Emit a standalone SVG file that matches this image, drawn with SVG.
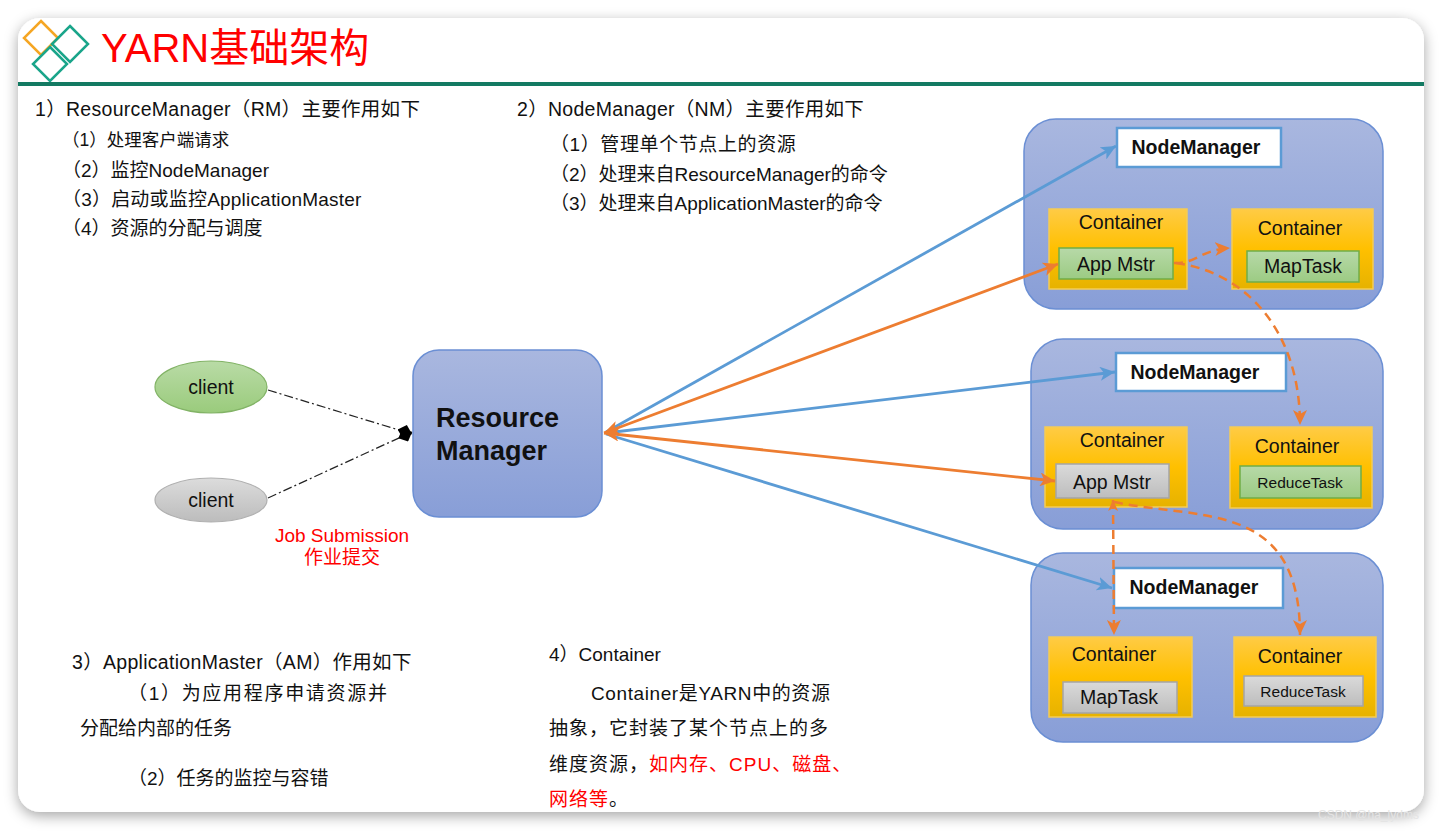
<svg xmlns="http://www.w3.org/2000/svg" width="1442" height="831" viewBox="0 0 1442 831">
<defs>
<style>
.t{font-family:"Liberation Sans","Noto Sans CJK SC",sans-serif;fill:#111;}
.b{font-size:19px;}
.h{font-size:19.5px;letter-spacing:0.3px;}
.lbl{font-size:19.5px;text-anchor:middle;}
.nm{font-size:19.5px;font-weight:bold;text-anchor:middle;}
.red{fill:#ff0000;}
.outer{fill:url(#gBlue);stroke:#6b8fd4;stroke-width:1.5;}
.cont{fill:url(#gYel);stroke:#f5cc55;stroke-width:1.5;}
.grn{fill:url(#gGrn);stroke:#70ad47;stroke-width:1.5;}
.gry{fill:url(#gGry);stroke:#a5a5a5;stroke-width:1.5;}
.nmbox{fill:#fff;stroke:#5b9bd5;stroke-width:2.5;}
.bl{stroke:#5b9bd5;stroke-width:2.8;fill:none;marker-end:url(#aB);}
.or{stroke:#ed7d31;stroke-width:2.8;fill:none;marker-end:url(#aO);}
.dsh{stroke:#ed7d31;stroke-width:2.5;fill:none;stroke-dasharray:9,6;marker-end:url(#aO);}
.dd{stroke:#222;stroke-width:1.2;fill:none;stroke-dasharray:9,3,2,3;marker-end:url(#dia);}
</style>
<linearGradient id="gBlue" x1="0" y1="0" x2="0" y2="1"><stop offset="0" stop-color="#a9b7df"/><stop offset="1" stop-color="#889ed7"/></linearGradient>
<linearGradient id="gYel" x1="0" y1="0" x2="0" y2="1"><stop offset="0" stop-color="#ffcb45"/><stop offset="0.5" stop-color="#ffc000"/><stop offset="1" stop-color="#e6b200"/></linearGradient>
<linearGradient id="gGrn" x1="0" y1="0" x2="0" y2="1"><stop offset="0" stop-color="#b7d9a8"/><stop offset="1" stop-color="#9ccb83"/></linearGradient>
<linearGradient id="gGry" x1="0" y1="0" x2="0" y2="1"><stop offset="0" stop-color="#dadada"/><stop offset="1" stop-color="#bdbdbd"/></linearGradient>
<linearGradient id="gCG" x1="0" y1="0" x2="0" y2="1"><stop offset="0" stop-color="#b9dba6"/><stop offset="1" stop-color="#9acb7c"/></linearGradient>
<linearGradient id="gCY" x1="0" y1="0" x2="0" y2="1"><stop offset="0" stop-color="#dcdcdc"/><stop offset="1" stop-color="#bcbcbc"/></linearGradient>
<filter id="sh" x="-5%" y="-5%" width="110%" height="112%"><feDropShadow dx="0" dy="4" stdDeviation="7" flood-color="#000" flood-opacity="0.35"/></filter>
<marker id="aB" markerUnits="userSpaceOnUse" markerWidth="16" markerHeight="14" refX="15" refY="7" orient="auto-start-reverse"><path d="M0,0 L15,7 L0,14 L4,7 z" fill="#5b9bd5"/></marker>
<marker id="aO" markerUnits="userSpaceOnUse" markerWidth="16" markerHeight="14" refX="15" refY="7" orient="auto-start-reverse"><path d="M0,0 L15,7 L0,14 L4,7 z" fill="#ed7d31"/></marker>
<marker id="aOs" markerUnits="userSpaceOnUse" markerWidth="12" markerHeight="10" refX="11" refY="5" orient="auto-start-reverse"><path d="M0,0 L11,5 L0,10 L3,5 z" fill="#ed7d31"/></marker>
<marker id="dia" markerUnits="userSpaceOnUse" markerWidth="16" markerHeight="14" refX="15" refY="7" orient="auto"><path d="M0,7 L7.5,0 L15,7 L7.5,14 z" fill="#000"/></marker>
</defs>

<rect width="1442" height="831" fill="#ffffff"/>
<rect x="18" y="18" width="1406" height="794" rx="22" fill="#fff" filter="url(#sh)"/>
<text x="1318" y="819" font-family="Liberation Sans, sans-serif" font-size="12" fill="#e4e4e4">CSDN @ha_lydms</text>

<g id="header">
<path d="M41,21 L58,38 L41,55 L24,38 z" fill="none" stroke="#f5a623" stroke-width="2.5"/>
<path d="M70,26 L88,44 L70,62 L52,44 z" fill="none" stroke="#1aa58a" stroke-width="2.5"/>
<path d="M50,47 L67,64 L50,81 L33,64 z" fill="none" stroke="#1aa58a" stroke-width="2.5"/>
<text x="101" y="62" font-family="Liberation Sans, 'Noto Sans CJK SC', sans-serif" font-size="40" fill="#ff0000">YARN基础架构</text>
<rect x="18" y="82" width="1406" height="4" fill="#137a62"/>
</g>

<g id="text-rm">
<text class="t h" x="35" y="116">1）ResourceManager（RM）主要作用如下</text>
<text class="t" x="62" y="146" font-size="17.5">（1）处理客户端请求</text>
<text class="t b" x="62" y="177">（2）监控NodeManager</text>
<text class="t b" x="62" y="206" letter-spacing="0.2">（3）启动或监控ApplicationMaster</text>
<text class="t b" x="62" y="235">（4）资源的分配与调度</text>
</g>
<g id="text-nm">
<text class="t h" x="517" y="116">2）NodeManager（NM）主要作用如下</text>
<text class="t b" x="550" y="151" letter-spacing="0.6">（1）管理单个节点上的资源</text>
<text class="t b" x="550" y="181">（2）处理来自ResourceManager的命令</text>
<text class="t b" x="550" y="210">（3）处理来自ApplicationMaster的命令</text>
</g>
<g id="text-am">
<text class="t h" x="72" y="669">3）ApplicationMaster（AM）作用如下</text>
<text class="t b" x="128" y="700" letter-spacing="1.7">（1）为应用程序申请资源并</text>
<text class="t b" x="80" y="735">分配给内部的任务</text>
<text class="t b" x="128" y="785">（2）任务的监控与容错</text>
</g>
<g id="text-container">
<text class="t b" x="549" y="661">4）Container</text>
<text class="t b" x="591" y="700" letter-spacing="0.6">Container是YARN中的资源</text>
<text class="t b" x="549" y="735" letter-spacing="1">抽象，它封装了某个节点上的多</text>
<text class="t b" x="549" y="771" letter-spacing="1">维度资源，<tspan class="red">如内存、CPU、磁盘、</tspan></text>
<text class="t b" x="549" y="806" letter-spacing="1"><tspan class="red">网络等</tspan>。</text>
</g>

<g id="client1">
<ellipse cx="211" cy="387" rx="56" ry="26" fill="url(#gCG)" stroke="#82b366" stroke-width="1.2"/>
<text class="t lbl" x="211" y="394">client</text>
</g>
<g id="client2">
<ellipse cx="211" cy="500" rx="56" ry="22" fill="url(#gCY)" stroke="#b0b0b0" stroke-width="1.2"/>
<text class="t lbl" x="211" y="507">client</text>
</g>
<g id="job-label">
<text class="t red" x="342" y="542" font-size="19" text-anchor="middle">Job Submission</text>
<text class="t red" x="342" y="564" font-size="19" text-anchor="middle">作业提交</text>
</g>

<g id="resource-manager">
<rect x="413" y="350" width="189" height="167" rx="26" fill="url(#gBlue)" stroke="#6b8fd4" stroke-width="1.5"/>
<text class="t" x="436" y="427" font-size="27" font-weight="bold" fill="#000">Resource</text>
<text class="t" x="436" y="460" font-size="27" font-weight="bold" fill="#000">Manager</text>
</g>

<g id="nodemanager1">
<rect class="outer" x="1024" y="119" width="359" height="190" rx="32"/>
<rect class="nmbox" x="1117" y="128" width="164" height="39"/>
<text class="t nm" x="1196" y="154" fill="#000">NodeManager</text>
<rect class="cont" x="1049" y="209" width="138" height="80"/>
<text class="t lbl" x="1121" y="229">Container</text>
<rect class="grn" x="1059" y="248" width="114" height="31"/>
<text class="t lbl" x="1116" y="271">App Mstr</text>
<rect class="cont" x="1232" y="209" width="141" height="80"/>
<text class="t lbl" x="1300" y="235">Container</text>
<rect class="grn" x="1247" y="251" width="112" height="31"/>
<text class="t lbl" x="1303" y="273">MapTask</text>
</g>

<g id="nodemanager2">
<rect class="outer" x="1031" y="339" width="352" height="190" rx="32"/>
<rect class="nmbox" x="1116" y="353" width="170" height="38"/>
<text class="t nm" x="1195" y="379" fill="#000">NodeManager</text>
<rect class="cont" x="1045" y="427" width="142" height="80"/>
<text class="t lbl" x="1122" y="447">Container</text>
<rect class="gry" x="1056" y="464" width="113" height="34"/>
<text class="t lbl" x="1112" y="489">App Mstr</text>
<rect class="cont" x="1230" y="427" width="142" height="81"/>
<text class="t lbl" x="1297" y="453">Container</text>
<rect class="grn" x="1240" y="466" width="121" height="32"/>
<text class="t" x="1300" y="488" font-size="15.5" text-anchor="middle">ReduceTask</text>
</g>

<g id="nodemanager3">
<rect class="outer" x="1031" y="553" width="352" height="189" rx="32"/>
<rect class="nmbox" x="1114" y="568" width="169" height="40"/>
<text class="t nm" x="1194" y="594" fill="#000">NodeManager</text>
<rect class="cont" x="1049" y="637" width="143" height="80"/>
<text class="t lbl" x="1114" y="661">Container</text>
<rect class="gry" x="1063" y="682" width="114" height="31"/>
<text class="t lbl" x="1119" y="704">MapTask</text>
<rect class="cont" x="1234" y="637" width="142" height="80"/>
<text class="t lbl" x="1300" y="663">Container</text>
<rect class="gry" x="1244" y="676" width="119" height="30"/>
<text class="t" x="1303" y="697" font-size="15.5" text-anchor="middle">ReduceTask</text>
</g>

<g id="connectors">
<line class="dd" x1="268" y1="390" x2="412" y2="434"/>
<line class="dd" x1="268" y1="498" x2="412" y2="432"/>
<line class="bl" x1="606" y1="432" x2="1116" y2="146"/>
<line class="bl" x1="606" y1="433" x2="1115" y2="372"/>
<line class="bl" x1="606" y1="434" x2="1112" y2="588"/>
<line class="or" x1="604" y1="433" x2="1058" y2="264" style="marker-start:url(#aO)"/>
<line class="or" x1="604" y1="433" x2="1055" y2="481" style="marker-start:url(#aO)"/>
<path class="dsh" d="M1174,263 C1196,264 1200,250 1230,248"/>
<path class="dsh" d="M1176,263 C1245,272 1300,330 1300,425"/>
<path class="dsh" d="M1113,500 L1114,635" style="marker-start:url(#aOs)"/>
<path class="dsh" d="M1114,502 C1200,520 1300,500 1300,635"/>
</g>
</svg>
